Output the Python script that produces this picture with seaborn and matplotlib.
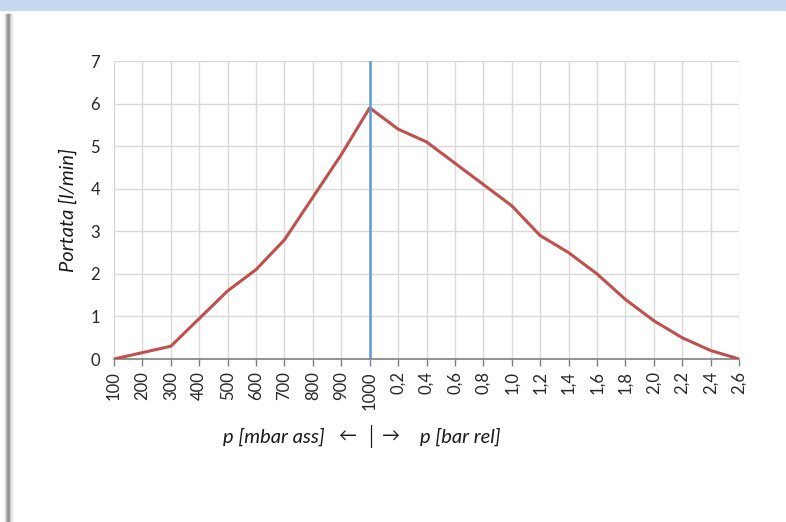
import matplotlib
matplotlib.use("Agg")
import matplotlib.pyplot as plt
import matplotlib.patches as mpatches
import matplotlib.lines as mlines
import numpy as np
import pandas as pd
import seaborn as sns

# dati
pressione = ["100", "200", "300", "400", "500", "600", "700", "800", "900", "1000",
             "0,2", "0,4", "0,6", "0,8", "1,0", "1,2", "1,4", "1,6", "1,8", "2,0",
             "2,2", "2,4", "2,6"]
portata = [0.0, 0.15, 0.3, 0.95, 1.6, 2.1, 2.8, 3.8, 4.8, 5.9,
           5.4, 5.1, 4.6, 4.1, 3.6, 2.9, 2.5, 2.0, 1.4, 0.9,
           0.5, 0.2, 0.0]
separatore = "1000"

W, H = 786, 522

sns.set_theme(style="white")
plt.rcParams["font.family"] = ["Lato", "DejaVu Sans"]

df = pd.DataFrame({"pos": np.arange(len(pressione)), "portata": portata})

fig = plt.figure(figsize=(W / 100, H / 100), dpi=100)
fig.patch.set_facecolor("white")

# banda in alto e ombra a sinistra
fig.patches.append(mpatches.Rectangle((0, 1 - 10 / H), 1, 10 / H,
                                      transform=fig.transFigure, color="#c6d9f1", zorder=0))
for i, c in enumerate(["#e0e0e0", "#c0c0c0", "#a0a0a0", "#8c8c8c", "#9a9a9a", "#bdbdbd", "#e6e6e6"]):
    fig.patches.append(mpatches.Rectangle(((5 + i) / W, 0), 1 / W, 1 - 14 / H,
                                          transform=fig.transFigure, color=c, zorder=0))

ax = fig.add_axes([114 / W, 1 - 359 / H, (739 - 114) / W, (359 - 61) / H])

sns.lineplot(data=df, x="pos", y="portata", ax=ax, color="#c0504d", linewidth=2.2, zorder=3)
ax.axvline(pressione.index(separatore), color="#5b9bd5", linewidth=1.8, zorder=4)

ax.set_xlim(0, len(pressione) - 1)
ax.set_ylim(0, 7)
ax.set_xticks(df["pos"])
ax.set_xticklabels(pressione, rotation=90, fontsize=12, color="#262626")
ax.set_yticks(range(0, 8))
ax.set_yticklabels([str(v) for v in range(0, 8)], fontsize=12, color="#262626")

ax.grid(True, color="#d9d9d9", linewidth=1)
ax.set_axisbelow(True)
for s in ["left", "right", "top"]:
    ax.spines[s].set_visible(False)
ax.spines["bottom"].set_color("#7f7f7f")
ax.spines["bottom"].set_linewidth(1.2)
ax.tick_params(axis="x", which="major", direction="out", length=5, width=1,
               color="#7f7f7f", bottom=True, pad=4)
ax.tick_params(axis="y", length=0, pad=10)

ax.set_ylabel("Portata [l/min]", fontsize=14.5, style="italic", color="#1a1a1a")
ax.yaxis.set_label_coords((77 - 114) / (739 - 114), 0.5)
ax.set_xlabel("")

# etichetta asse x in pezzi
ty = 1 - 437 / H
fig.text(223 / W, ty, "p [mbar ass]", ha="left", va="center", fontsize=14.5,
         style="italic", color="#1a1a1a")
fig.text(347 / W, ty, "←", ha="center", va="center", fontsize=13, color="#1a1a1a")
fig.text(391 / W, ty, "→", ha="center", va="center", fontsize=13, color="#1a1a1a")
fig.text(420 / W, ty, "p [bar rel]", ha="left", va="center", fontsize=14.5,
         style="italic", color="#1a1a1a")
fig.lines.append(mlines.Line2D([371 / W, 371 / W], [1 - 425 / H, 1 - 447 / H],
                               transform=fig.transFigure, color="#1a1a1a", linewidth=0.9))

fig.savefig("out.png", dpi=100)
